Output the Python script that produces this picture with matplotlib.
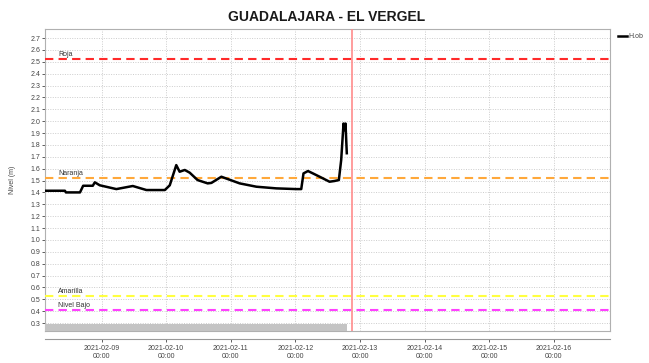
import matplotlib.pyplot as plt
import matplotlib.dates as mdates
import pandas as pd
from matplotlib.patches import Rectangle

plt.rcParams['font.family'] = ['Liberation Sans', 'DejaVu Sans']

# observed water level (m)
times = pd.to_datetime([
    "2021-02-08 03:00", "2021-02-08 10:24", "2021-02-08 10:45", "2021-02-08 16:00",
    "2021-02-08 17:10", "2021-02-08 20:45", "2021-02-08 21:30", "2021-02-08 23:20",
    "2021-02-09 05:30", "2021-02-09 11:36", "2021-02-09 16:40", "2021-02-09 23:30",
    "2021-02-10 01:20", "2021-02-10 03:45", "2021-02-10 05:00", "2021-02-10 06:54",
    "2021-02-10 08:45", "2021-02-10 11:40", "2021-02-10 15:25", "2021-02-10 16:48",
    "2021-02-10 20:30", "2021-02-11 03:18", "2021-02-11 09:30", "2021-02-11 16:54",
    "2021-02-12 00:20", "2021-02-12 02:10", "2021-02-12 03:00", "2021-02-12 04:40",
    "2021-02-12 06:30", "2021-02-12 09:00", "2021-02-12 12:40", "2021-02-12 14:30",
    "2021-02-12 16:08", "2021-02-12 17:00", "2021-02-12 17:52", "2021-02-12 18:15",
    "2021-02-12 18:36", "2021-02-12 19:05",
])
nivel = [
    1.414, 1.414, 1.400, 1.400,
    1.456, 1.456, 1.485, 1.460,
    1.428, 1.454, 1.420, 1.420,
    1.460, 1.630, 1.574, 1.589,
    1.566, 1.504, 1.476, 1.480,
    1.532, 1.476, 1.448, 1.434,
    1.428, 1.428, 1.560, 1.580,
    1.560, 1.532, 1.490, 1.496,
    1.504, 1.673, 1.980, 1.925,
    1.980, 1.730,
]

# alert thresholds
umbral_nombres = ["Roja", "Naranja", "Amarilla", "Nivel Bajo"]
umbral_valores = [2.523, 1.518, 0.525, 0.41]
umbral_colores = ["#ff2a2a", "#ffa83a", "#ffff40", "#ff40ff"]

ahora = pd.Timestamp("2021-02-12 20:50")
x_ini = pd.Timestamp("2021-02-08 03:00")
x_fin = pd.Timestamp("2021-02-16 20:50")
dias = pd.date_range("2021-02-09", "2021-02-16", freq="D")

fig = plt.figure(figsize=(6.49, 3.63), dpi=100)
W, H = 649, 363
left, right, top, bottom = 45, 610, 29, 331
ax = fig.add_axes([left / W, 1 - bottom / H, (right - left) / W, (bottom - top) / H])

ax.plot(times, nivel, color="black", lw=1.8, label="H.ob", zorder=4)

for nombre, valor, color in zip(umbral_nombres, umbral_valores, umbral_colores):
    ax.axhline(valor, color=color, lw=1.5, dashes=(4, 2.5), zorder=3)
    ax.annotate(nombre, xy=(pd.Timestamp("2021-02-08 08:00"), valor), xytext=(0, 1),
                textcoords="offset points", fontsize=5, color="#333333", va="bottom")

ax.axvline(ahora, color="#ff8c8c", lw=1.2, zorder=3)

ax.set_xlim(x_ini, x_fin)
ax.set_ylim(0.233, 2.776)
ax.set_yticks([round(0.3 + 0.1 * i, 1) for i in range(25)])
ax.yaxis.set_major_formatter(plt.FormatStrFormatter("%.1f"))
ax.set_xticks(dias)
ax.tick_params(axis="x", length=0, labelbottom=False)
ax.tick_params(axis="y", labelsize=5, colors="#444444", length=2, width=0.6, pad=1.5)
ax.grid(True, color="#cccccc", ls=(0, (1, 1.5)), lw=0.7)
for s in ax.spines.values():
    s.set_color("#b0b0b0")
    s.set_linewidth(0.8)
ax.set_ylabel("Nivel (m)", fontsize=5, color="#444444", labelpad=10)

# scrollbar strip at the bottom of the plot area
ax.add_patch(Rectangle((0, 0), (347 - left) / (right - left), 7 / (bottom - top),
                       transform=ax.transAxes, color="#c4c4c4", zorder=5, lw=0))

# separate date axis below the plot
axd = fig.add_axes([left / W, 1 - 339 / H, (right - left) / W, 0.0001])
axd.set_xlim(x_ini, x_fin)
axd.set_xticks(dias)
axd.xaxis.set_major_formatter(mdates.DateFormatter("%Y-%m-%d\n%H:%M"))
axd.tick_params(axis="x", labelsize=5, colors="#444444", length=2.5, width=0.6, pad=2)
axd.set_yticks([])
for k in ["top", "left", "right"]:
    axd.spines[k].set_visible(False)
axd.spines["bottom"].set_color("#999999")
axd.spines["bottom"].set_linewidth(0.8)
axd.patch.set_alpha(0)

fig.text(327 / W, 1 - 17 / H, "GUADALAJARA - EL VERGEL", ha="center", va="center",
         fontsize=10, fontweight="bold", color="#1a1a1a")

fig.legend(loc="upper left", bbox_to_anchor=(615 / W, 1 - 30 / H), frameon=False,
           fontsize=5, handlelength=1.2, handletextpad=0.2, borderpad=0,
           labelcolor="#444444")

fig.savefig("out.png", dpi=100)
